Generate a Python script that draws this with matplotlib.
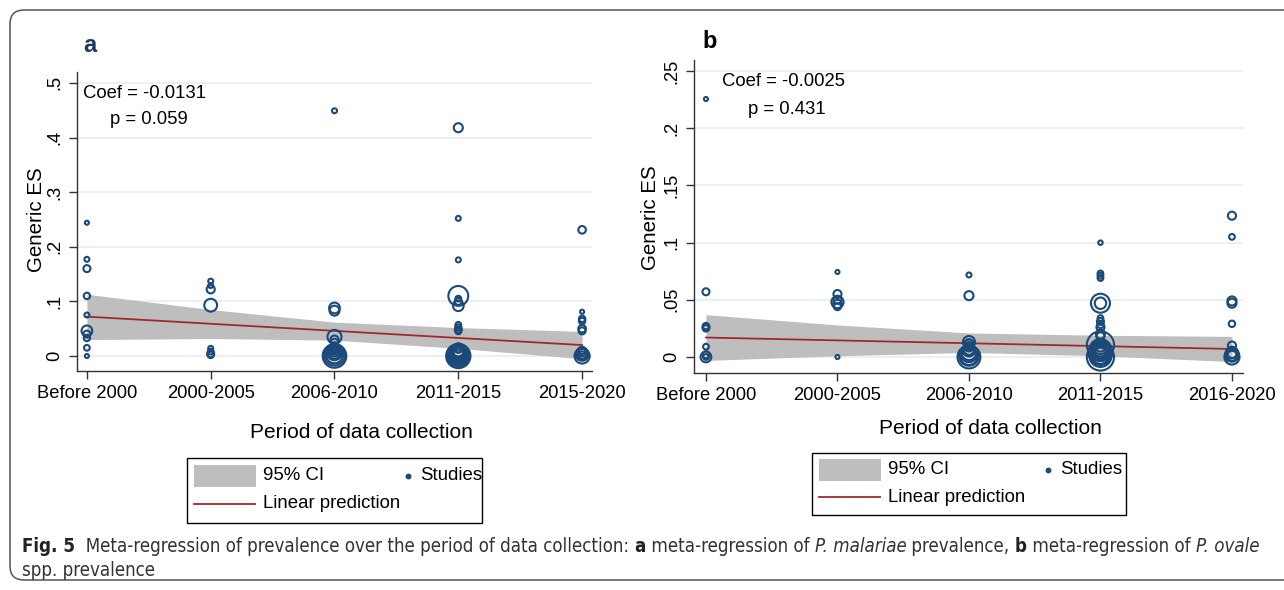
import matplotlib
matplotlib.use('Agg')
import matplotlib.pyplot as plt
import matplotlib.transforms as mtransforms
from matplotlib.patches import FancyBboxPatch, Rectangle

plt.rcParams['font.family'] = ['Liberation Sans', 'DejaVu Sans']

# categories
periods_a = ['Before 2000', '2000-2005', '2006-2010', '2011-2015', '2015-2020']
periods_b = ['Before 2000', '2000-2005', '2006-2010', '2011-2015', '2016-2020']

# panel a studies: category index, effect size, weight
a_x = [1]*10 + [2]*8 + [3]*19 + [4]*27 + [5]*13
a_y = [0.244, 0.177, 0.160, 0.110, 0.075, 0.046, 0.040, 0.033, 0.015, 0.0,
       0.137, 0.129, 0.122, 0.093, 0.014, 0.008, 0.004, 0.002,
       0.449, 0.088, 0.083, 0.035, 0.030, 0.025, 0.020, 0.018, 0.016, 0.014, 0.012, 0.010,
       0.008, 0.006, 0.005, 0.003, 0.002, 0.001, 0.0,
       0.418, 0.252, 0.176, 0.110, 0.105, 0.100, 0.092, 0.057, 0.052, 0.048, 0.045,
       0.015, 0.012, 0.010, 0.008, 0.007, 0.006, 0.005, 0.004, 0.004, 0.003, 0.003,
       0.002, 0.002, 0.001, 0.001, 0.0,
       0.231, 0.081, 0.068, 0.064, 0.050, 0.046, 0.010, 0.008, 0.005, 0.004, 0.003, 0.0, 0.001]
a_w = [1, 1.5, 3, 2.5, 1.5, 7, 3, 2.5, 2, 1,
       1.5, 1.5, 4, 10, 1.5, 2, 3, 2.5,
       1.5, 7, 6, 12, 4, 3, 2, 3, 4, 5, 6, 4,
       6, 9, 12, 20, 28, 16, 34,
       5, 1.5, 1.5, 24, 2, 3, 7, 2, 2.5, 3, 2,
       5, 3, 8, 12, 6, 16, 18, 10, 20, 14, 24,
       22, 28, 8, 30, 36,
       3.5, 1, 2.5, 2.5, 3.5, 3, 3, 5, 8, 6, 10, 14, 4]

# panel a fit and 95% CI at each category
a_pred = [0.072, 0.059, 0.046, 0.033, 0.020]
a_lo = [0.030, 0.032, 0.029, 0.014, -0.005]
a_hi = [0.113, 0.085, 0.062, 0.052, 0.045]

# panel b studies
b_x = [1]*9 + [2]*7 + [3]*16 + [4]*26 + [5]*11
b_y = [0.2255, 0.057, 0.027, 0.026, 0.025, 0.009, 0.002, 0.0, 0.0,
       0.0743, 0.055, 0.050, 0.048, 0.046, 0.044, 0.0,
       0.0717, 0.0536, 0.013, 0.012, 0.011, 0.009, 0.008, 0.007, 0.006, 0.005, 0.004, 0.003,
       0.002, 0.001, 0.001, 0.0,
       0.0999, 0.073, 0.071, 0.069, 0.047, 0.047, 0.034, 0.031, 0.028, 0.026, 0.020, 0.018,
       0.0105, 0.009, 0.008, 0.0075, 0.007, 0.006, 0.005, 0.004, 0.004, 0.003, 0.002, 0.001,
       0.001, 0.0,
       0.1235, 0.105, 0.049, 0.047, 0.029, 0.010, 0.004, 0.003, 0.002, 0.0, 0.001]
b_w = [1, 3, 2.5, 3, 2.5, 2, 3, 7, 2,
       1, 4, 4, 9, 5, 3, 1,
       1.5, 5, 9, 4, 6, 5, 3, 8, 10, 6, 14, 18, 12, 24, 20, 32,
       1.2, 2, 2, 2, 22, 8, 2, 3, 2.5, 4, 5, 4,
       45, 6, 10, 18, 14, 30, 20, 8, 35, 12, 26, 16, 30, 45,
       4, 2, 5, 5, 2.5, 4, 8, 5, 12, 14, 6]

b_pred = [0.017, 0.0145, 0.012, 0.0095, 0.007]
b_lo = [-0.003, 0.001, 0.004, 0.001, -0.004]
b_hi = [0.037, 0.028, 0.021, 0.019, 0.018]

a_ticks = [0, 0.1, 0.2, 0.3, 0.4, 0.5]
a_ticklabels = ['0', '.1', '.2', '.3', '.4', '.5']
b_ticks = [0, 0.05, 0.1, 0.15, 0.2, 0.25]
b_ticklabels = ['0', '.05', '.1', '.15', '.2', '.25']

W, H = 1284, 590
navy = '#1b4a7a'
ci_grey = '#bebebe'
red = '#9e2a2f'

fig = plt.figure(figsize=(W/100, H/100), dpi=100)

# background layer in pixel coordinates (frame, legends, caption)
bg = fig.add_axes([0, 0, 1, 1], zorder=-5)
bg.set_xlim(0, W)
bg.set_ylim(H, 0)
bg.axis('off')
bg.add_patch(FancyBboxPatch((10, 10), 1320, 570, boxstyle='round,pad=0,rounding_size=14',
                            fc='white', ec='#555555', lw=1.1))


def px(x, y):
    return x / W, 1 - y / H


def panel(rect, periods, xs, ys, ws, pred, lo, hi, ticks, ticklabels, ylim, xlim, label_shift):
    ax = fig.add_axes(rect)
    cats = list(range(1, len(periods) + 1))
    for t in ticks:
        ax.axhline(t, color='#e8eff2', lw=1.3, zorder=0)
    ax.fill_between(cats, lo, hi, color=ci_grey, lw=0, zorder=1)
    ax.plot(cats, pred, color=red, lw=1.3, zorder=2)
    ax.scatter(xs, ys, s=[w * 8.5 for w in ws], facecolors='none', edgecolors=navy,
               linewidths=1.5, zorder=3)
    ax.set_xlim(*xlim)
    ax.set_ylim(*ylim)
    ax.set_xticks(cats)
    ax.set_xticklabels(periods, fontsize=13.2)
    ax.set_yticks(ticks)
    ax.set_yticklabels(ticklabels, fontsize=13.2, rotation=90, va='center')
    shift = mtransforms.ScaledTranslation(label_shift / 100, 0, fig.dpi_scale_trans)
    for lab in ax.get_xticklabels():
        lab.set_transform(lab.get_transform() + shift)
    for s in ['top', 'right']:
        ax.spines[s].set_visible(False)
    for s in ['left', 'bottom']:
        ax.spines[s].set_color('#333333')
        ax.spines[s].set_linewidth(1.0)
    ax.tick_params(direction='out', length=6, width=1, color='#333333', pad=4)
    return ax


ax_a = panel([77/W, 1 - 371/H, 515/W, 299/H], periods_a, a_x, a_y, a_w, a_pred, a_lo, a_hi,
             a_ticks, a_ticklabels, (-0.0275, 0.52), (0.92, 5.08), 5)
ax_b = panel([694/W, 1 - 373/H, 549/W, 313/H], periods_b, b_x, b_y, b_w, b_pred, b_lo, b_hi,
             b_ticks, b_ticklabels, (-0.014, 0.2596), (0.909, 5.084), 2)

# labels
fig.text(*px(37, 220), 'Generic ES', rotation=90, fontsize=14.8, ha='center', va='center')
fig.text(*px(651, 218), 'Generic ES', rotation=90, fontsize=14.8, ha='center', va='center')
fig.text(*px(361, 433), 'Period of data collection', fontsize=15, ha='center', va='center')
fig.text(*px(990, 428), 'Period of data collection', fontsize=15, ha='center', va='center')

fig.text(*px(83, 45), 'a', fontsize=17, fontweight='bold', color='#1f3864', va='center')
fig.text(*px(702, 42), 'b', fontsize=17, fontweight='bold', color='black', va='center')

fig.text(*px(83, 93), 'Coef = -0.0131', fontsize=13.3, va='center')
fig.text(*px(110, 120), 'p = 0.059', fontsize=13.3, va='center')
fig.text(*px(722, 82), 'Coef = -0.0025', fontsize=13.3, va='center')
fig.text(*px(748, 109), 'p = 0.431', fontsize=13.3, va='center')


# legends drawn as boxes in pixel space
def legend_box(x0, y0, x1, y1, row1, row2, dot_x, studies_x):
    bg.add_patch(Rectangle((x0, y0), x1 - x0, y1 - y0, fc='white', ec='black', lw=1.0))
    bg.add_patch(Rectangle((x0 + 7, row1 - 11), 62, 22, fc=ci_grey, ec='none'))
    bg.plot([x0 + 7, x0 + 68], [row2, row2], color=red, lw=1.3)
    bg.plot([dot_x], [row1], ls='none', marker='o', ms=3.2, mfc=navy, mec=navy)
    bg.text(x0 + 76, row1, '95% CI', fontsize=13.4, va='center')
    bg.text(x0 + 76, row2, 'Linear prediction', fontsize=13.4, va='center')
    bg.text(studies_x, row1, 'Studies', fontsize=13.4, va='center')


legend_box(187, 458, 482, 523, 476, 504, 408, 420)
legend_box(812, 453, 1126, 515, 470, 497, 1048, 1060)

# caption with mixed styles
cap_font = ['DejaVu Sans']
cap_size = 13.4
line1 = [('Fig. 5', 'bold', 'normal', '#222222'),
         ('  Meta-regression of prevalence over the period of data collection: ', 'normal', 'normal', '#333333'),
         ('a', 'bold', 'normal', '#222222'),
         (' meta-regression of ', 'normal', 'normal', '#333333'),
         ('P. malariae', 'normal', 'italic', '#333333'),
         (' prevalence, ', 'normal', 'normal', '#333333'),
         ('b', 'bold', 'normal', '#222222'),
         (' meta-regression of ', 'normal', 'normal', '#333333'),
         ('P. ovale', 'normal', 'italic', '#333333')]
renderer = fig.canvas.get_renderer()
x0 = 22
for txt, wgt, sty, col in line1:
    t = bg.text(x0, 546, txt, fontsize=cap_size, fontweight=wgt, fontstyle=sty,
                fontstretch='condensed', color=col, family=cap_font, va='center')
    bb = t.get_window_extent(renderer=renderer)
    x0 += bb.width
bg.text(22, 571, 'spp. prevalence', fontsize=cap_size, color='#333333', family=cap_font,
        fontstretch='condensed', va='center')

fig.savefig('out.png', dpi=100)
